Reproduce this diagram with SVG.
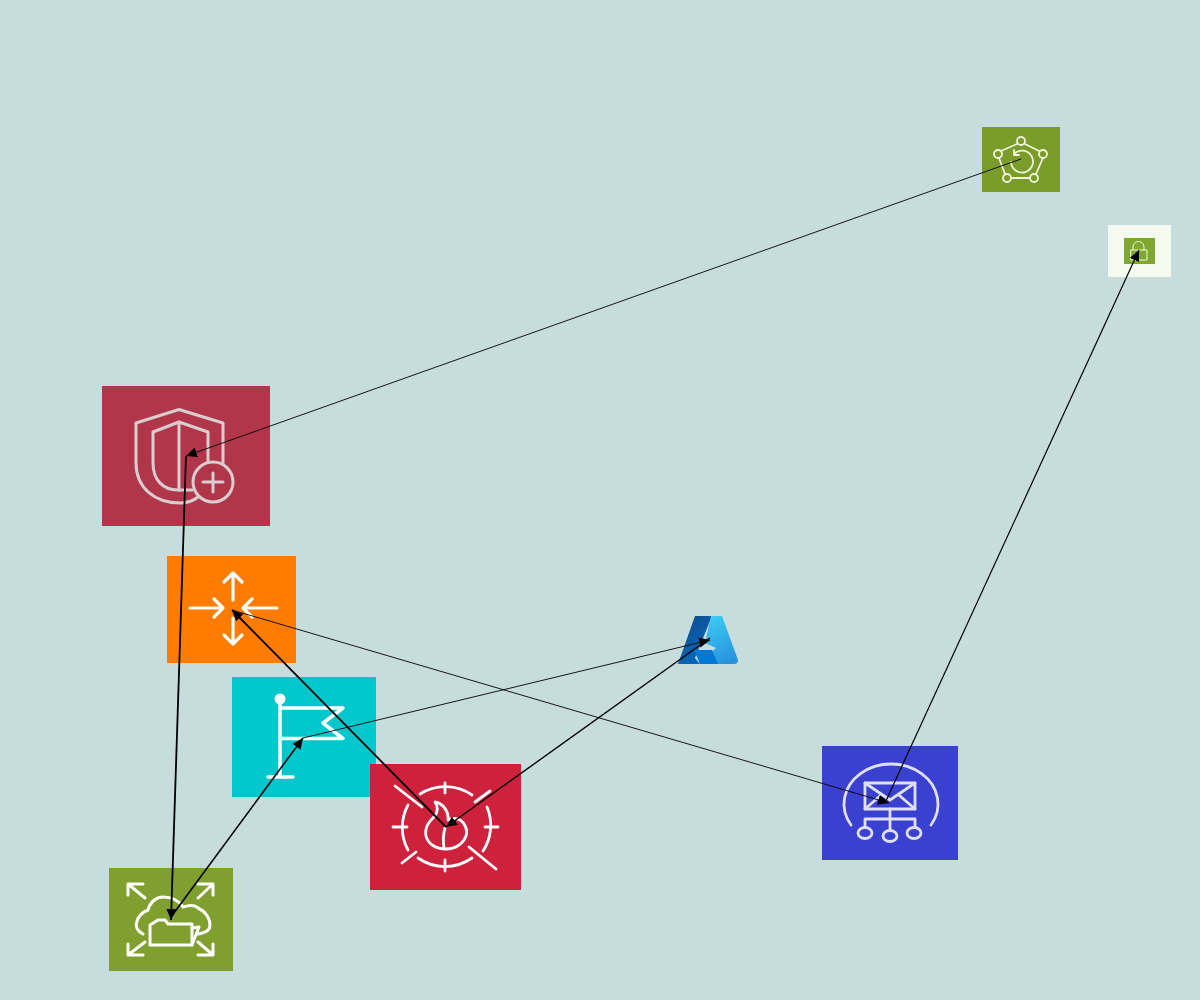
<svg xmlns="http://www.w3.org/2000/svg" width="1200" height="1000" viewBox="0 0 1200 1000">
<style>
.i{fill:none;stroke:#fff;stroke-width:2.8;stroke-linecap:round;stroke-linejoin:round}
.c{fill:none;stroke:#000;marker-end:url(#h)}
</style>
<defs>
<marker id="h" markerUnits="userSpaceOnUse" markerWidth="14" markerHeight="12" refX="11" refY="5" orient="auto"><path d="M0,0L11,5L0,10Z" fill="#000"/></marker>
<linearGradient id="a1" x1="0" y1="0" x2="0.6" y2="1"><stop offset="0" stop-color="#114a8b"/><stop offset="1" stop-color="#0669bc"/></linearGradient>
<linearGradient id="a2" x1="0.3" y1="0" x2="0.7" y2="1"><stop offset="0" stop-color="#3ccbf4"/><stop offset="1" stop-color="#2892df"/></linearGradient>
</defs>
<rect width="1200" height="1000" fill="#c7dcdc"/>
<g id="node-shield">
<rect x="102" y="386" width="168" height="140" fill="#b13649"/>
<g class="i" style="stroke:#d9cdd0;stroke-width:3">
<path d="M223,463V423L179,409.500L136,423V463C136,488 155,503 180,503C187,503 193,501 198,497"/>
<path d="M208,462V432L179,422L153,432V463C153,480 163,490 178,490H192"/>
<path d="M179,422V490"/>
<circle cx="213" cy="482" r="20"/>
<path d="M203,482H223M213,473V492"/>
</g>
</g>
<g id="node-orange">
<rect x="167" y="556" width="129" height="107" fill="#ff7c00"/>
<g class="i" style="stroke-width:3.200">
<path d="M233,573V600M224,582L233,573L242,582"/>
<path d="M233,618V644M224,635L233,644L242,635"/>
<path d="M190,608H223M214,599L223,608L214,617"/>
<path d="M277,608H243M252,599L243,608L252,617"/>
</g>
</g>
<g id="node-flag">
<rect x="232" y="677" width="144" height="120" fill="#00c7cc"/>
<g class="i" style="stroke-width:3.500">
<path d="M280,700V777M268,777H293M280,708H343L323,723L343,738.500H280"/>
</g>
<circle cx="280" cy="699" r="5.500" fill="#fff"/>
</g>
<g id="node-crimson">
<rect x="370" y="764" width="151" height="126" fill="#ce213c"/>
<g class="i">
<path d="M420,794A47,47 0 0 1 472,795M487,807A47,47 0 0 1 483,851M472,858A47,47 0 0 1 418,858M408,850A47,47 0 0 1 408,805"/>
<path d="M445,783V793M445,860V871M393,827H407M485,827H498"/>
<path d="M395,786L422,807M475,802L490,791M402,863L416,852M469,847L496,869"/>
<path d="M435,802C443,803 449,812 448,820C452,818 456,818 460,820C465,823 468,830 466,836C463,844 455,849 446,849C436,849 428,844 426,836C424,826 431,820 435,816C438,812 438,806 435,802Z"/>
<path d="M445,828C443,835 443,842 444,848"/>
</g>
</g>
<g id="node-olive">
<rect x="109" y="868" width="124" height="103" fill="#7fa02e"/>
<g class="i" style="stroke-width:3">
<path d="M143,934C137,931 135,926 137,921C139,915 143,912 148,910C150,902 156,897 163,897C172,897 179,901 183,907C189,905 195,905 198,908C205,911 210,918 210,925C210,930 205,933 198,934"/>
<path d="M150,945V925L158,920H165L168,924H192V945Z"/>
<path d="M192,928L199,927L192,945"/>
<path d="M128,884L145,898M128,895V884H143M213,884L198,898M213,895V884H198M128,955L145,942M128,944V955H143M213,955L198,942M213,944V955H198"/>
</g>
</g>
<g id="node-blue">
<rect x="822" y="746" width="136" height="114" fill="#3a41d0"/>
<g class="i" style="stroke:#dfe0f5">
<path d="M851,825A47,40 0 1 1 931,825"/>
<rect x="865" y="783" width="50" height="26"/>
<path d="M865,783L890,800L915,783M865,809L880,796M915,809L900,796"/>
<path d="M890,809V830M865,819H915M865,819V827M915,819V827"/>
<ellipse cx="865" cy="833" rx="7" ry="5.500"/><ellipse cx="890" cy="836" rx="7" ry="5.500"/><ellipse cx="914" cy="833" rx="7" ry="5.500"/>
</g>
</g>
<g id="node-azure">
<path d="M695,616H712L695,658L700,664H678Z" fill="url(#a1)"/>
<path d="M698,664L716,648L705,643L711,616H722L738,660Q738,664 734,664Z" fill="url(#a2)"/>
<path d="M694,650H712L718,664H700Z" fill="#0078d4"/>
</g>
<g id="node-pentagon">
<rect x="982" y="127" width="78" height="65" fill="#7a9c28"/>
<g class="i" style="stroke:#f0f5e0;stroke-width:1.800">
<path d="M1017,144L1001,151M1025,144L1039,151M1043,158L1036,174M1030,178H1011M1005,174L999,158"/>
<circle cx="1021" cy="141" r="4"/><circle cx="1043" cy="154" r="4"/><circle cx="1034" cy="178" r="4"/><circle cx="1007" cy="178" r="4"/><circle cx="998" cy="154" r="4"/>
<path d="M1014,154A11,11 0 1 1 1011,162M1014,150V155H1019"/>
</g>
</g>
<g id="node-lock">
<rect x="1108" y="225" width="63" height="52" fill="#f6fbf0"/>
<rect x="1124" y="238" width="31" height="26" fill="#7fa82e"/>
<g class="i" style="stroke:#f0f5e0;stroke-width:1">
<rect x="1131" y="250" width="16" height="10"/>
<path d="M1133,250V247A5.500,5.500 0 0 1 1144,247V250"/>
</g>
</g>
<g id="connectors">
<line class="c" stroke-width="0.900" x1="1021" y1="159" x2="186" y2="456"/>
<line class="c" stroke-width="1.800" x1="186" y1="456" x2="171" y2="920"/>
<line class="c" stroke-width="1.600" x1="171" y1="917" x2="303" y2="738"/>
<line class="c" stroke-width="0.900" x1="303" y1="738" x2="710" y2="640"/>
<line class="c" stroke-width="1.400" x1="710" y1="638" x2="446" y2="827"/>
<line class="c" stroke-width="1.800" x1="446" y1="827" x2="232" y2="610"/>
<line class="c" stroke-width="0.900" x1="232" y1="610" x2="889" y2="803"/>
<line class="c" stroke-width="1.200" x1="885" y1="803" x2="1139" y2="250"/>
</g>
</svg>
